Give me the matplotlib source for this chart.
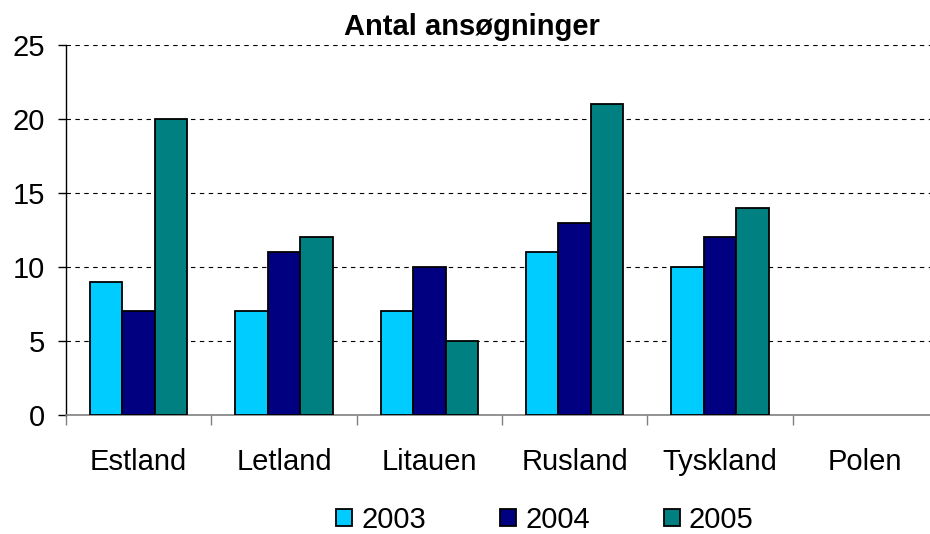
import numpy as np
import matplotlib.pyplot as plt
from matplotlib.ticker import FixedLocator

plt.rcParams['font.family'] = ['Liberation Sans', 'DejaVu Sans']

lande = ["Estland", "Letland", "Litauen", "Rusland", "Tyskland", "Polen"]
aar = ["2003", "2004", "2005"]
v2003 = [9, 7, 7, 11, 10, np.nan]
v2004 = [7, 11, 10, 13, 12, np.nan]
v2005 = [20, 12, 5, 21, 14, np.nan]
farver = ["#00CCFF", "#000080", "#008080"]

fs = 21

fig = plt.figure(figsize=(9.3, 5.34), dpi=100)
ax = fig.add_axes([66 / 930, 119 / 534, 872 / 930, 370 / 534])

x = np.arange(len(lande))
w = 0.224
for i, (vals, navn, c) in enumerate(zip([v2003, v2004, v2005], aar, farver)):
    ax.bar(x + (i - 1) * w, vals, w, color=c, edgecolor="black",
           linewidth=1.3, label=navn, zorder=3)

ax.set_xlim(-0.5, len(lande) - 0.5)
ax.set_ylim(0, 25)
ax.set_yticks(range(0, 26, 5))
ax.yaxis.grid(True, linestyle=(0, (4, 4)), color="black", linewidth=0.8)
ax.set_axisbelow(True)

ax.set_xticks(x)
ax.set_xticklabels(lande, fontsize=fs)
ax.tick_params(axis="x", which="major", length=0, pad=24)
ax.xaxis.set_minor_locator(FixedLocator(np.arange(-0.5, len(lande), 1.0)))
ax.tick_params(axis="x", which="minor", length=7, color="#808080", width=1)
ax.tick_params(axis="y", length=6, width=1, labelsize=fs, pad=9)

for s in ["top", "right"]:
    ax.spines[s].set_visible(False)
ax.spines["bottom"].set_color("#808080")
ax.spines["bottom"].set_linewidth(1.2)
ax.spines["left"].set_linewidth(1)

fig.text(472 / 930, 1 - 27 / 534, "Antal ansøgninger", fontsize=fs,
         fontweight="bold", ha="center", va="center")

fig.legend(loc="center", bbox_to_anchor=(545 / 930, 1 - 520 / 534), ncol=3,
           frameon=False, fontsize=fs, handlelength=0.55, handleheight=0.55,
           handletextpad=0.3, columnspacing=2.55)

fig.savefig("out.png", dpi=100)
